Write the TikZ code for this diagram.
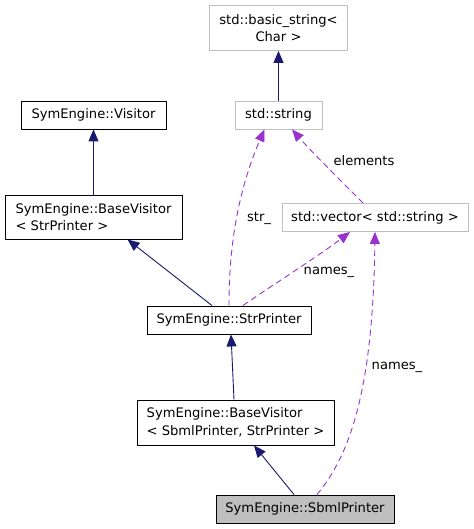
\documentclass[tikz,border=0pt]{standalone}
\usepackage{fontspec}
\setmainfont{DejaVu Sans}
\usetikzlibrary{arrows.meta}
\definecolor{navyedge}{HTML}{191970}
\definecolor{purpleedge}{HTML}{9A32CD}
\definecolor{grayborder}{HTML}{BFBFBF}
\begin{document}
\begin{tikzpicture}[x=1pt,y=-1pt,
  every node/.style={font=\fontsize{13.1}{17.5}\selectfont},
  cls/.style={draw=black, line width=0.9pt, inner sep=0pt, fill=white},
  ext/.style={draw=grayborder, line width=0.9pt, inner sep=0pt, fill=white},
  inh/.style={draw=navyedge, line width=0.9pt, -{Triangle[length=12pt,width=10pt]}, fill=none},
  usage/.style={draw=purpleedge, line width=0.9pt, dash pattern=on 6pt off 4pt, -{Triangle[length=12pt,width=10pt,fill=purpleedge]}},
  lbl/.style={inner sep=0pt}]
\useasboundingbox (0,0) rectangle (473,529);
\node[ext, minimum width=138pt, minimum height=45pt, align=center] (bs) at (278.5,28) {std::basic\_string<\\Char >};
\node[ext, minimum width=87pt, minimum height=28pt] (str) at (278.5,115) {std::string};
\node[ext, minimum width=186pt, minimum height=28pt] (vec) at (375,217.5) {std::vector< std::string >};
\node[cls, minimum width=145pt, minimum height=28pt] (vis) at (93.5,115) {SymEngine::Visitor};
\node[cls, minimum width=177pt, minimum height=44pt, align=left] (bv1) at (93.5,217) {SymEngine::BaseVisitor\\< StrPrinter >};
\node[cls, minimum width=164pt, minimum height=28pt] (sp) at (229,320) {SymEngine::StrPrinter};
\node[cls, minimum width=197pt, minimum height=45pt, align=left] (bv2) at (235.5,422.5) {SymEngine::BaseVisitor\\< SbmlPrinter, StrPrinter >};
\node[cls, fill=grayborder, minimum width=178pt, minimum height=28pt] (sbml) at (305,509) {SymEngine::SbmlPrinter};
% inheritance
\draw[inh] (str.north) -- (bs.south);
\draw[inh] (bv1.north) -- (vis.south);
\draw[inh] ([xshift=-17pt]sp.north) -- ([xshift=34pt]bv1.south);
\draw[inh] ([xshift=-1.5pt]bv2.north) -- ([xshift=2pt]sp.south);
\draw[inh] ([xshift=-11pt]sbml.north) -- ([xshift=18.5pt]bv2.south);
% usage
\draw[usage] (sp.north) .. controls (229,260) and (234,200) .. ([xshift=-14pt]str.south);
\draw[usage] ([xshift=14pt]sp.north) .. controls (265,290) and (320,255) .. ([xshift=-25pt]vec.south);
\draw[usage] ([xshift=12pt]sbml.north) .. controls (350,455) and (373,390) .. (vec.south);
\draw[usage] ([xshift=-12pt]vec.north) .. controls (340,180) and (310,150) .. ([xshift=13.5pt]str.south);
% labels
\node[lbl] (l1) at (259,218) {str\_};
\node[lbl] (l2) at (364,161) {elements};
\node[lbl] (l3) at (329,272) {names\_};
\node[lbl] (l4) at (397,367) {names\_};
\end{tikzpicture}
\end{document}
